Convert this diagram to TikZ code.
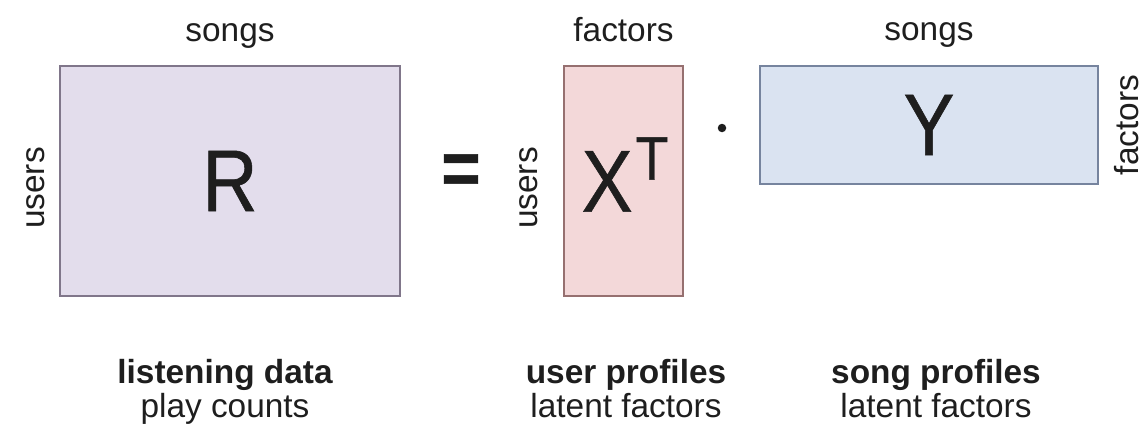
\documentclass[tikz,border=0pt]{standalone}
\usepackage{fontspec}
\setmainfont{Liberation Sans}
\newfontfamily\narrowfont{Liberation Sans}[FakeStretch=0.87, FakeBold=0.6]
\usetikzlibrary{positioning}
\usetikzlibrary{calc}

\definecolor{ink}{RGB}{30,30,30}
\definecolor{rfill}{RGB}{227,221,236}
\definecolor{rline}{RGB}{128,118,138}
\definecolor{xfill}{RGB}{243,216,217}
\definecolor{xline}{RGB}{150,112,112}
\definecolor{yfill}{RGB}{218,227,241}
\definecolor{yline}{RGB}{118,132,158}

\begin{document}
\begin{tikzpicture}[font=\fontsize{19}{19}\selectfont, text=ink,
box/.style={draw, line width=0.7pt, inner sep=0pt},
letter/.style={font=\narrowfont\fontsize{50}{50}\selectfont, inner sep=0pt},
axis/.style={anchor=base},
side/.style={anchor=base, rotate=90},
title/.style={anchor=base, font=\fontsize{19}{19}\selectfont\bfseries},
caption/.style={anchor=base}]

\useasboundingbox (0,0) rectangle (22.86,8.68);

% the three matrices
\node[box, draw=rline, fill=rfill, minimum width=6.8cm, minimum height=4.6cm] (R) at (4.6,5.06) {};
\node[box, draw=xline, fill=xfill, minimum width=2.38cm, minimum height=4.6cm] (X) at (12.47,5.06) {};
\node[box, draw=yline, fill=yfill, minimum width=6.76cm, minimum height=2.36cm] (Y) at (18.58,6.18) {};

\node[letter] (r) at (R) {R};
\node[letter] (xt) at ([xshift=0.3mm, yshift=1.3mm]X.center) {X\hspace{0.6mm}\raisebox{6.4mm}{\fontsize{35}{35}\selectfont T}};
\node[letter] (y) at (Y) {Y};

\node[letter, font=\narrowfont\fontsize{44}{44}\selectfont\bfseries] (eq) at (9.22,5.19) {=};
\node[circle, fill=ink, inner sep=0pt, minimum size=1.7mm] (dot) at (14.44,6.12) {};

% dimensions
\node[axis] (rsongs) at ([yshift=4.8mm]R.north) {songs};
\node[side] (rusers) at ([xshift=-3mm, yshift=-1.4mm]R.west) {users};
\node[axis] (xfactors) at ([yshift=4.8mm]X.north) {factors};
\node[side] (xusers) at ([xshift=-5.2mm, yshift=-1.4mm]X.west) {users};
\node[axis] (ysongs) at ([yshift=5mm]Y.north) {songs};
\node[side] (yfactors) at ([xshift=8mm]Y.east) {factors};

% captions
\node[title] (rtitle) at (4.5,1.02) {listening data};
\node[caption] (rcap) at ([yshift=-6.8mm]rtitle.base) {play counts};
\node[title] (xtitle) at (12.52,1.02) {user profiles};
\node[caption] (xcap) at ([yshift=-6.8mm]xtitle.base) {latent factors};
\node[title] (ytitle) at (18.72,1.02) {song profiles};
\node[caption] (ycap) at ([yshift=-6.8mm]ytitle.base) {latent factors};
%
\end{tikzpicture}
\end{document}
